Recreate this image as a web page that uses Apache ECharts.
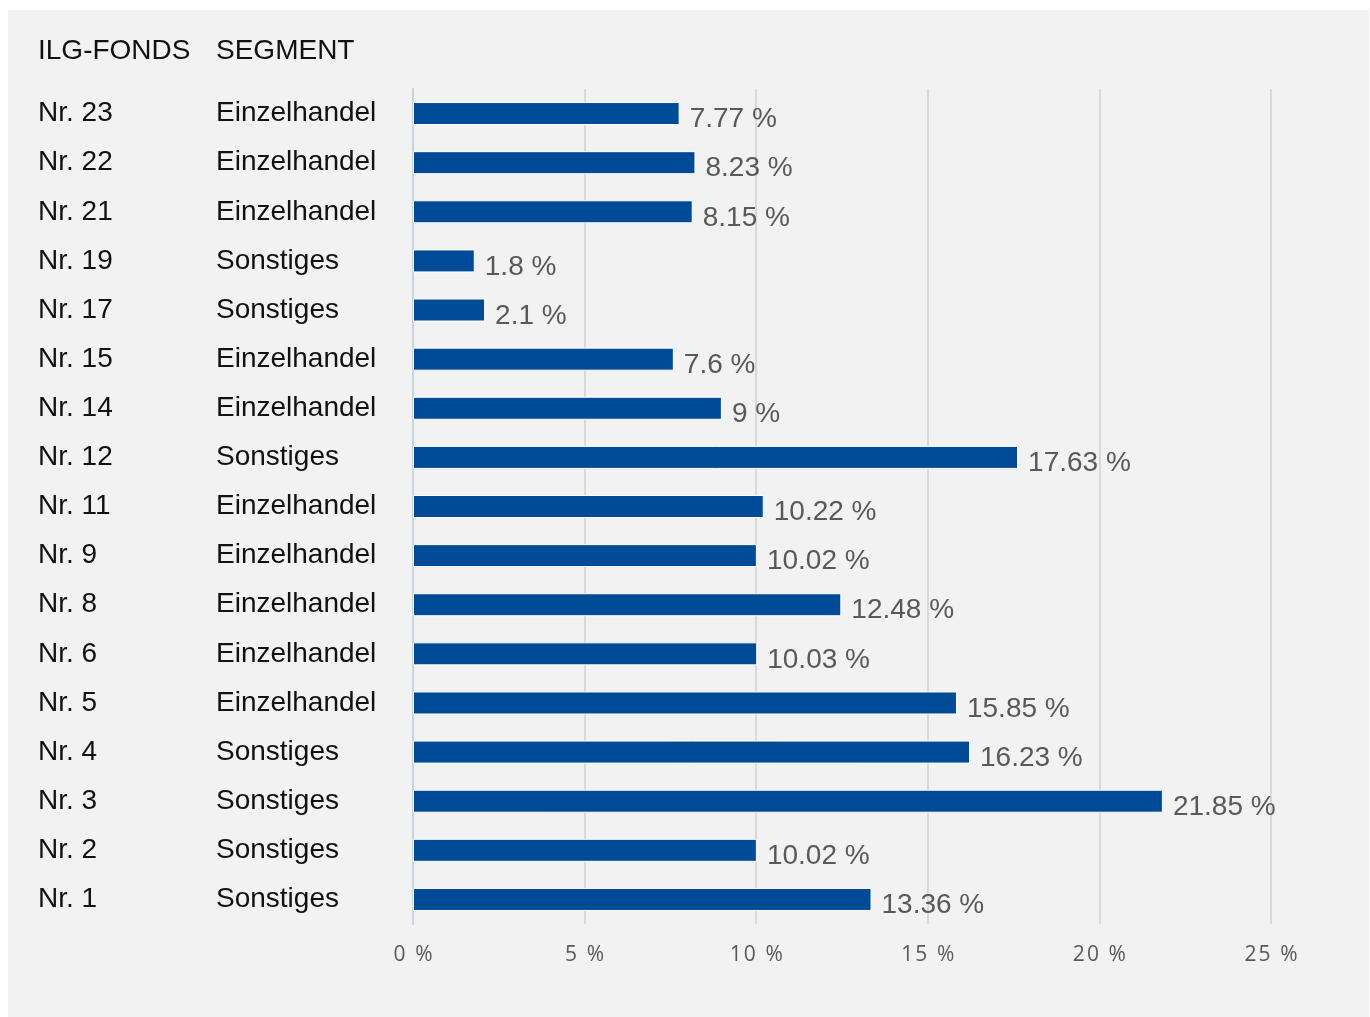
<!DOCTYPE html>
<html>
<head>
<meta charset="utf-8">
<script src="https://cdn.jsdelivr.net/npm/echarts@6/dist/echarts.min.js"></script>
<style>
  html, body { margin: 0; padding: 0; background: #ffffff; }
  #chart { position: absolute; left: 8px; top: 10px; width: 1361px; height: 1007px; background: #f2f2f2; }
</style>
</head>
<body>
<div id="chart"></div>
<script>
const headers = ['ILG-FONDS', 'SEGMENT'];
const funds = ['Nr. 23','Nr. 22','Nr. 21','Nr. 19','Nr. 17','Nr. 15','Nr. 14','Nr. 12','Nr. 11','Nr. 9','Nr. 8','Nr. 6','Nr. 5','Nr. 4','Nr. 3','Nr. 2','Nr. 1'];
const segments = ['Einzelhandel','Einzelhandel','Einzelhandel','Sonstiges','Sonstiges','Einzelhandel','Einzelhandel','Sonstiges','Einzelhandel','Einzelhandel','Einzelhandel','Einzelhandel','Einzelhandel','Sonstiges','Sonstiges','Sonstiges','Sonstiges'];
const values = [7.77, 8.23, 8.15, 1.8, 2.1, 7.6, 9, 17.63, 10.22, 10.02, 12.48, 10.03, 15.85, 16.23, 21.85, 10.02, 13.36];
const xTicks = { min: 0, max: 25, interval: 5 };

const FONT = "'Liberation Sans', Arial, sans-serif";
const chart = echarts.init(document.getElementById('chart'));
chart.setOption({
  backgroundColor: '#f2f2f2',
  animation: false,
  graphic: [
    { type: 'text', left: 30, top: 27, style: { text: headers[0], font: "28px " + FONT, fill: '#111' } },
    { type: 'text', left: 208, top: 27, style: { text: headers[1], font: "28px " + FONT, fill: '#111' } }
  ],
  grid: { left: 405, right: 98, top: 79, bottom: 93, containLabel: false },
  xAxis: {
    type: 'value', min: xTicks.min, max: xTicks.max, interval: xTicks.interval,
    axisLine: { show: false }, axisTick: { show: false },
    splitLine: { show: true, lineStyle: { color: '#d9d9d9', width: 2 } },
    axisLabel: {
      formatter: function (v) { return (v + ' %').split('').join('\u200A'); },
      fontFamily: "'Open Sans', sans-serif", fontSize: 21, color: '#595959', margin: 21
    }
  },
  yAxis: [
    {
      type: 'category', data: funds, inverse: true,
      axisLine: { show: true, lineStyle: { color: '#c8d3df', width: 2 } },
      axisTick: { show: false },
      axisLabel: { align: 'left', margin: 375, fontFamily: FONT, fontSize: 28, color: '#111', padding: [6, 0, 0, 0] }
    },
    {
      type: 'category', data: segments, inverse: true, position: 'left',
      axisLine: { show: false }, axisTick: { show: false },
      axisLabel: { align: 'left', margin: 197, fontFamily: FONT, fontSize: 28, color: '#111', padding: [6, 0, 0, 0] }
    }
  ],
  series: [{
    type: 'bar', data: values, yAxisIndex: 0, barWidth: 23,
    itemStyle: { color: '#004b97', borderColor: '#ffffff', borderWidth: 1 },
    label: { show: true, position: 'right', distance: 10, offset: [0, 6], formatter: '{c} %', fontFamily: FONT, fontSize: 28, color: '#595959' }
  }]
});
</script>
</body>
</html>
